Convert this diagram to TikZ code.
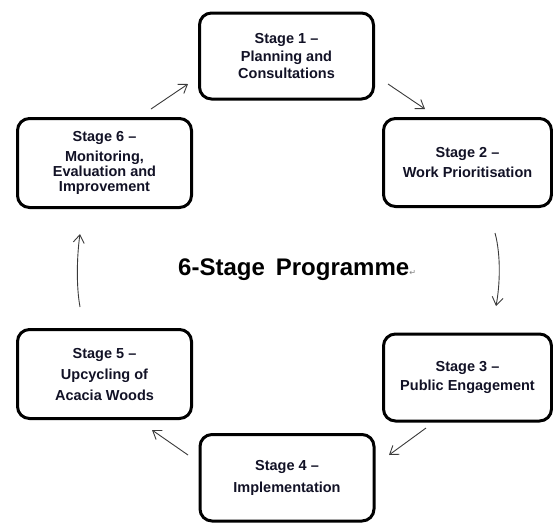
\documentclass[tikz,border=0pt]{standalone}
\usepackage{fontspec}
\setmainfont{Liberation Sans}
\newfontfamily\symfont{DejaVu Sans}
\usetikzlibrary{arrows.meta}
\definecolor{arrowgray}{HTML}{3A3A3A}
\definecolor{txt}{HTML}{121226}
\tikzset{
  stagebox/.style={draw=black, line width=3pt, rounded corners=12pt, fill=white,
    inner sep=0pt, align=center, text=txt,
    font=\fontsize{14.5}{17}\selectfont\bfseries},
  flow/.style={draw=arrowgray, line width=0.9pt,
    -{Straight Barb[length=8pt,width=11pt]}}
}
\begin{document}
\begin{tikzpicture}[x=1pt,y=-1pt]
\useasboundingbox (0,0) rectangle (553,523);
\node[stagebox, minimum width=174pt, minimum height=86pt] (s1) at (286.5,56)
  {Stage 1 --\\[1pt]Planning and\\Consultations};
\node[stagebox, minimum width=168pt, minimum height=88pt] (s2) at (467.5,162.5)
  {Stage 2 --\\[3pt]Work Prioritisation};
\node[stagebox, minimum width=168pt, minimum height=87pt] (s3) at (467.5,377.5)
  {Stage 3 --\\[2pt]Public Engagement};
\node[stagebox, minimum width=174pt, minimum height=86.5pt] (s4) at (287,477.75)
  {Stage 4 --\\[5pt]Implementation};
\node[stagebox, minimum width=174pt, minimum height=89pt,
  font=\fontsize{14.5}{21}\selectfont\bfseries] (s5) at (104.5,374)
  {Stage 5 --\\Upcycling of\\Acacia Woods};
\node[stagebox, minimum width=174pt, minimum height=89pt,
  font=\fontsize{14.5}{15}\selectfont\bfseries] (s6) at (104.5,163)
  {Stage 6 --\\[5pt]Monitoring,\\Evaluation and\\Improvement};
\node[anchor=base west, inner sep=0pt, font=\fontsize{24}{28}\selectfont\bfseries] (title) at (178,275)
  {6-Stage\hspace{11pt}Programme{\symfont\mdseries\color{gray}\fontsize{8}{8}\selectfont ↵}};
% arrow end points
\coordinate (a1s) at (388,84);   \coordinate (a1e) at (425,109);
\coordinate (a2s) at (495,233);  \coordinate (a2e) at (496,306);
\coordinate (a3s) at (426,428);  \coordinate (a3e) at (389,455);
\coordinate (a4s) at (188,455);  \coordinate (a4e) at (152,430);
\coordinate (a5s) at (80,307);   \coordinate (a5e) at (80,234);
\coordinate (a6s) at (151,109);  \coordinate (a6e) at (188,84);
\draw[flow] (a1s) -- (a1e);
\draw[flow] (a2s) .. controls (501,255) and (500,285) .. (a2e);
\draw[flow] (a3s) -- (a3e);
\draw[flow] (a4s) -- (a4e);
\draw[flow] (a5s) .. controls (76,285) and (77,255) .. (a5e);
\draw[flow] (a6s) -- (a6e);
\end{tikzpicture}
\end{document}
